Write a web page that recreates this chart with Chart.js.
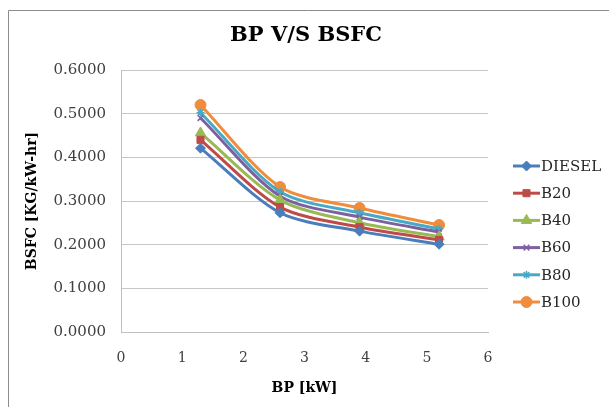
<!DOCTYPE html>
<html lang="en">
<head>
    <meta charset="UTF-8">
    <title>BP V/S BSFC</title>
    <script src="https://cdn.jsdelivr.net/npm/chart.js"></script>
    <style>
        html, body { margin: 0; padding: 0; background: #ffffff; overflow: hidden; }
        .chart-box { width: 609px; height: 407px; position: relative; }
    </style>
</head>
<body>
    <div class="chart-box"><canvas id="bsfcChart"></canvas></div>

    <script>
        // brake power [kW]
        const bpValues = [1.3, 2.6, 3.9, 5.2];

        // BSFC [kg/kW-hr] for each fuel blend
        const diesel = [0.421, 0.273, 0.231, 0.201];
        const b20 = [0.440, 0.286, 0.240, 0.211];
        const b40 = [0.456, 0.302, 0.250, 0.218];
        const b60 = [0.490, 0.311, 0.263, 0.229];
        const b80 = [0.502, 0.321, 0.273, 0.236];
        const b100 = [0.520, 0.332, 0.284, 0.245];

        const seriesNames = ['DIESEL', 'B20', 'B40', 'B60', 'B80', 'B100'];
        const seriesValues = [diesel, b20, b40, b60, b80, b100];
        const seriesColors = ['#4a7ebb', '#be4b48', '#98b954', '#7d60a0', '#46aac5', '#f08c3c'];
        const seriesMarkers = ['rectRot', 'rect', 'triangle', 'crossRot', 'star', 'circle'];
        const markerSizes = [5, 5, 6, 4, 4, 5.5];

        const xTicks = [0, 1, 2, 3, 4, 5, 6];
        const yTicks = [0, 0.1, 0.2, 0.3, 0.4, 0.5, 0.6];

        const chartTitle = 'BP V/S BSFC';
        const serif = "'DejaVu Serif', serif";

        const datasets = seriesNames.map((name, i) => ({
            label: name,
            data: bpValues.map((bp, j) => ({ x: bp, y: seriesValues[i][j] })),
            borderColor: seriesColors[i],
            backgroundColor: seriesColors[i],
            borderWidth: 3,
            tension: 0.28,
            pointStyle: seriesMarkers[i],
            pointRadius: markerSizes[i],
            pointBorderWidth: (seriesMarkers[i] === 'crossRot' || seriesMarkers[i] === 'star') ? 1.5 : 1,
            pointBorderColor: seriesColors[i],
            pointBackgroundColor: seriesColors[i]
        }));

        // excel-ish outer frame, centred title, legend with line + marker
        const framePlugin = {
            id: 'frame',
            beforeDraw(chart) {
                const ctx = chart.ctx;
                ctx.save();
                ctx.strokeStyle = '#8c8c8c';
                ctx.lineWidth = 1;
                ctx.beginPath();
                ctx.moveTo(8.5, chart.height);
                ctx.lineTo(8.5, 10.5);
                ctx.lineTo(chart.width, 10.5);
                ctx.stroke();
                ctx.restore();
            },
            afterDraw(chart) {
                const ctx = chart.ctx;
                ctx.save();
                ctx.fillStyle = '#000000';
                ctx.font = 'bold 21px ' + serif;
                ctx.textAlign = 'center';
                ctx.textBaseline = 'middle';
                ctx.fillText(chartTitle, 306, 36);

                ctx.textAlign = 'left';
                ctx.font = '15px ' + serif;
                chart.data.datasets.forEach((ds, i) => {
                    const y = 166 + i * 27.2;
                    ctx.strokeStyle = ds.borderColor;
                    ctx.lineWidth = 3;
                    ctx.beginPath();
                    ctx.moveTo(513, y);
                    ctx.lineTo(540, y);
                    ctx.stroke();
                    ctx.fillStyle = ds.backgroundColor;
                    ctx.lineWidth = ds.pointBorderWidth;
                    Chart.helpers.drawPoint(ctx, { pointStyle: ds.pointStyle, radius: ds.pointRadius, borderWidth: ds.pointBorderWidth, rotation: 0 }, 526.5, y);
                    ctx.fillStyle = '#262626';
                    ctx.fillText(ds.label, 541, y + 1);
                });
                ctx.restore();
            }
        };

        new Chart(document.getElementById('bsfcChart').getContext('2d'), {
            type: 'line',
            data: { datasets: datasets },
            options: {
                responsive: true,
                maintainAspectRatio: false,
                animation: false,
                layout: { padding: { left: 0, right: 121, top: 70, bottom: 0 } },
                plugins: {
                    legend: { display: false },
                    tooltip: { enabled: false },
                    title: { display: false }
                },
                scales: {
                    x: {
                        type: 'linear',
                        min: 0,
                        max: 6,
                        afterBuildTicks: scale => { scale.ticks = xTicks.map(v => ({ value: v })); },
                        afterFit: scale => { scale.height = 75; },
                        grid: { display: false, drawTicks: false },
                        border: { display: true, color: '#bfbfbf', width: 1 },
                        ticks: { color: '#404040', padding: 18, font: { family: serif, size: 14 } },
                        title: {
                            display: true,
                            text: 'BP [kW]',
                            color: '#000000',
                            font: { family: serif, size: 14, weight: 'bold' },
                            padding: { top: 0, bottom: 10 }
                        }
                    },
                    y: {
                        min: 0,
                        max: 0.6,
                        afterBuildTicks: scale => { scale.ticks = yTicks.map(v => ({ value: v })); },
                        afterFit: scale => { scale.width = 121; },
                        grid: { color: '#c6c6c6', drawTicks: false },
                        border: { display: true, color: '#bfbfbf', width: 1 },
                        ticks: {
                            color: '#404040',
                            padding: 15,
                            font: { family: serif, size: 15 },
                            callback: value => value.toFixed(4)
                        },
                        title: {
                            display: true,
                            text: 'BSFC [KG/kW-hr]',
                            color: '#000000',
                            font: { family: serif, size: 14, weight: 'bold' },
                            padding: { top: 24, bottom: 0 }
                        }
                    }
                }
            },
            plugins: [framePlugin]
        });
    </script>
</body>
</html>
